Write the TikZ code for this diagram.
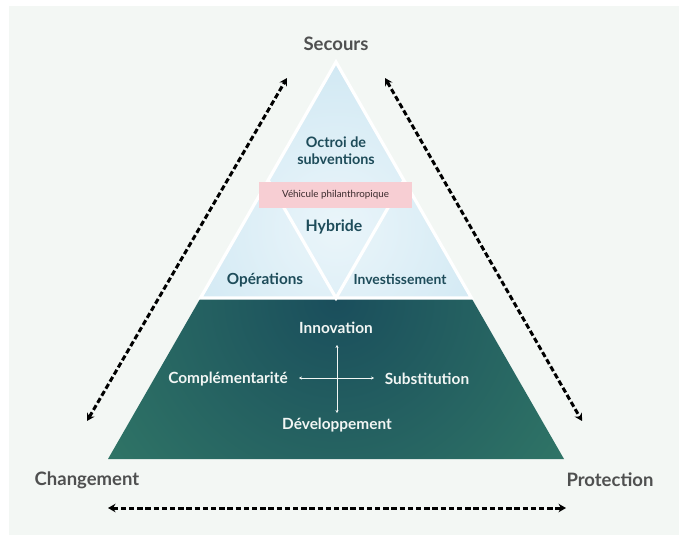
\documentclass[tikz,border=0pt]{standalone}
\usepackage{fontspec}
\setmainfont{Lato}
\usetikzlibrary{arrows.meta}

\definecolor{bgtint}{HTML}{F3F7F4}
\definecolor{skyin}{HTML}{EAF5FA}
\definecolor{skyout}{HTML}{BEDFEE}
\definecolor{tealdeep}{HTML}{1A4E5C}
\definecolor{greenlow}{HTML}{40936E}
\definecolor{inktext}{HTML}{1E4C5A}
\definecolor{graytext}{HTML}{4F5050}
\definecolor{pinkband}{HTML}{F7CED3}
\definecolor{pinkink}{HTML}{3A2A2D}
\definecolor{palewhite}{HTML}{F2F6F4}

\begin{document}
\begin{tikzpicture}[x=1pt,y=-1pt,
  axislabel/.style={text=graytext, font=\bfseries\fontsize{18.5}{20}\selectfont, inner sep=0pt},
  toplabel/.style={text=inktext, font=\bfseries\fontsize{15}{16.5}\selectfont, inner sep=0pt, align=center},
  baselabel/.style={text=palewhite, font=\bfseries\fontsize{15.4}{17}\selectfont, inner sep=0pt},
  dasharrow/.style={black, line width=3pt, dash pattern=on 5.4pt off 2.8pt,
    {Stealth[length=7.5pt,width=8.5pt]}-{Stealth[length=7.5pt,width=8.5pt]}},
  crossarrow/.style={palewhite, line width=0.8pt,
    {Stealth[length=3pt,width=3.2pt]}-{Stealth[length=3pt,width=3.2pt]}},
  divider/.style={white, line width=3.2pt, line join=miter}]

\useasboundingbox (0,0) rectangle (679,537);
\fill[white] (0,0) rectangle (679,537);
\fill[bgtint] (9,6) rectangle (679,535);

% green base of the pyramid
\begin{scope}
  \clip (108,459) -- (200,299) -- (472,299) -- (564,459) -- cycle;
  \shade[inner color=tealdeep, outer color=greenlow] (336,300) circle (500pt);
\end{scope}

% light blue top triangle
\begin{scope}
  \clip (336,62) -- (200.5,298) -- (471.5,298) -- cycle;
  \shade[inner color=skyin, outer color=skyout] (336,228) circle (300pt);
\end{scope}
\draw[divider] (336,62) -- (200.5,298) -- (471.5,298) -- cycle;

% inner inverted triangle
\coordinate (midL) at (268,180);
\coordinate (midR) at (404,180);
\coordinate (midB) at (336,298);
\draw[divider] (midL) -- (midB) -- (midR);

% band across the middle
\node[fill=pinkband, minimum width=153pt, minimum height=26pt, inner sep=0pt,
      text=pinkink, font=\fontsize{9.8}{11}\selectfont] (band) at (335.5,195)
  {Véhicule philanthropique};

% labels of the top triangle
\node[toplabel, font=\bfseries\fontsize{14.4}{17}\selectfont] (grant) at (336,151) {Octroi de\\subventions};
\node[toplabel, font=\bfseries\fontsize{15.8}{17}\selectfont] (hybrid) at (334,227) {Hybride};
\node[toplabel, font=\bfseries\fontsize{15.3}{17}\selectfont] (ops) at (265,280) {Opérations};
\node[toplabel, font=\bfseries\fontsize{13.9}{15}\selectfont] (invest) at (400,279) {Investissement};

% labels of the base
\node[baselabel] (innov) at (336,328) {Innovation};
\node[baselabel] (compl) at (228,379) {Complémentarité};
\node[baselabel] (subst) at (427,379) {Substitution};
\node[baselabel] (devel) at (337,425) {Développement};

\coordinate (crossN) at (337,345);
\coordinate (crossS) at (337,413);
\coordinate (crossW) at (299,378);
\coordinate (crossE) at (374,378);
\draw[crossarrow] (crossN) -- (crossS);
\draw[crossarrow] (crossW) -- (crossE);

% outer labels
\node[axislabel] (secours) at (336,44) {Secours};
\node[axislabel] (change) at (87,480) {Changement};
\node[axislabel] (protect) at (610,480) {Protection};

% dashed tension arrows
\coordinate (leftTop) at (287,78);
\coordinate (leftBot) at (87,421);
\coordinate (rightTop) at (385,78);
\coordinate (rightBot) at (582,421);
\coordinate (baseL) at (108,508);
\coordinate (baseR) at (566,508);
\draw[dasharrow] (leftBot) -- (leftTop);
\draw[dasharrow] (rightTop) -- (rightBot);
\draw[dasharrow] (baseL) -- (baseR);
\end{tikzpicture}
\end{document}
